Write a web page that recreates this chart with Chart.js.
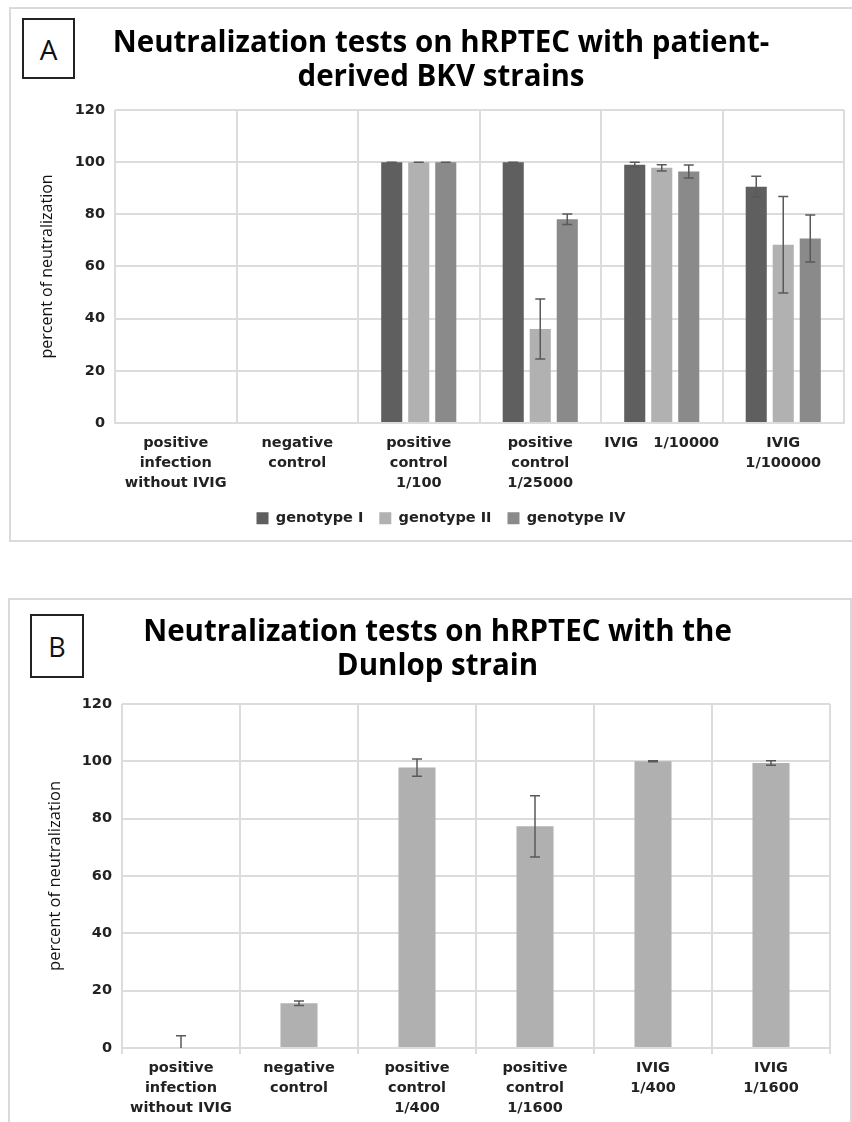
<!DOCTYPE html>
<html>
<head>
<meta charset="utf-8">
<script src="https://cdn.jsdelivr.net/npm/chart.js@4.4.0/dist/chart.umd.min.js"></script>
<style>
  body { margin: 0; background: #fff; width: 852px; height: 1122px; position: relative; overflow: hidden; }
  .panel { position: absolute; border: 2px solid #dadada; box-sizing: border-box; }
  .tag { position: absolute; border: 2px solid #222; box-sizing: border-box; font-family: 'Open Sans', sans-serif;
         display: flex; align-items: center; justify-content: center; color: #111; }
  canvas { position: absolute; }
</style>
</head>
<body>
<div class="panel" style="left:9px;top:7px;width:860px;height:535px;"></div>
<div class="panel" style="left:8px;top:598px;width:844px;height:540px;"></div>
<div class="tag" style="left:22px;top:18px;width:53px;height:61px;font-size:28px;">A</div>
<div class="tag" style="left:30px;top:614px;width:54px;height:64px;font-size:27px;">B</div>
<canvas id="chartA" width="841" height="532" style="left:10px;top:8px;"></canvas>
<canvas id="chartB" width="842" height="523" style="left:9px;top:599px;"></canvas>
<script>
// panel A - patient derived strains
const labelsA = [['positive', 'infection', 'without IVIG'], ['negative', 'control'], ['positive', 'control', '1/100'],
                 ['positive', 'control', '1/25000'], ['IVIG   1/10000'], ['IVIG', '1/100000']];
const genotypeI = [0, 0, 100, 100, 99, 90.6];
const genotypeII = [0, 0, 100, 36, 97.8, 68.3];
const genotypeIV = [0, 0, 100, 78.1, 96.4, 70.7];
const errI = [null, null, 0, 0, 1, 4];
const errII = [null, null, 0, 11.5, 1.2, 18.5];
const errIV = [null, null, 0, 2, 2.5, 9];

// panel B - Dunlop strain
const labelsB = [['positive', 'infection', 'without IVIG'], ['negative', 'control'], ['positive', 'control', '1/400'],
                 ['positive', 'control', '1/1600'], ['IVIG', '1/400'], ['IVIG', '1/1600']];
const dunlop = [0, 15.6, 97.8, 77.3, 100, 99.4];
const errDunlop = [4.3, 0.8, 3, 10.7, 0.2, 0.8];

const yTicks = [0, 20, 40, 60, 80, 100, 120];

const boldFont = { family: 'DejaVu Sans', weight: 'bold', size: 14.5, lineHeight: 1.38 };
const titleFont = { family: 'Open Sans', weight: 'bold', size: 29.5, lineHeight: 1.15 };
const gridColor = '#dcdcdc';

// draws the error bars on top of each bar
const errorBars = {
  id: 'errorBars',
  afterDatasetsDraw(chart) {
    const { ctx, chartArea, scales: { y } } = chart;
    ctx.save();
    ctx.beginPath();
    ctx.rect(chartArea.left, chartArea.top, chartArea.right - chartArea.left, chartArea.bottom - chartArea.top);
    ctx.clip();
    ctx.strokeStyle = '#595959';
    ctx.lineWidth = 1.5;
    chart.data.datasets.forEach((ds, i) => {
      if (!ds.errors) return;
      chart.getDatasetMeta(i).data.forEach((bar, j) => {
        const e = ds.errors[j];
        if (e == null) return;
        const v = ds.data[j];
        const top = y.getPixelForValue(v + e);
        const bot = y.getPixelForValue(v - e);
        const x = bar.x;
        ctx.beginPath();
        ctx.moveTo(x, top); ctx.lineTo(x, bot);
        ctx.moveTo(x - 5, top); ctx.lineTo(x + 5, top);
        ctx.moveTo(x - 5, bot); ctx.lineTo(x + 5, bot);
        ctx.stroke();
      });
    });
    ctx.restore();
  }
};

function yScale(width, titleSize) {
  return {
    min: 0, max: 120,
    afterBuildTicks: s => { s.ticks = yTicks.map(v => ({ value: v })); },
    afterFit: s => { s.width = width; },
    ticks: { font: boldFont, color: '#222', padding: 10 },
    grid: { color: gridColor, lineWidth: 2, drawTicks: false },
    border: { display: false },
    title: { display: true, text: 'percent of neutralization', color: '#111', padding: 0,
             font: { family: 'Open Sans', size: titleSize } }
  };
}

new Chart(document.getElementById('chartA'), {
  type: 'bar',
  data: {
    labels: labelsA,
    datasets: [
      { label: 'genotype I', data: genotypeI, errors: errI, backgroundColor: '#5f5f5f' },
      { label: 'genotype II', data: genotypeII, errors: errII, backgroundColor: '#b1b1b1' },
      { label: 'genotype IV', data: genotypeIV, errors: errIV, backgroundColor: '#8a8a8a' }
    ]
  },
  options: {
    responsive: false,
    animation: false,
    layout: { padding: { left: 28, right: 7, top: 0, bottom: 4.5 } },
    datasets: { bar: { categoryPercentage: 0.667, barPercentage: 0.78, borderWidth: 0 } },
    plugins: {
      title: {
        display: true,
        text: ['Neutralization tests on hRPTEC with patient-', 'derived BKV strains'],
        color: '#000',
        font: titleFont,
        padding: { top: 18.5, bottom: 15.6 }
      },
      legend: {
        position: 'bottom',
        labels: { boxWidth: 12, boxHeight: 12, padding: 16, color: '#222', font: boldFont }
      },
      tooltip: { enabled: false }
    },
    scales: {
      x: {
        afterFit: s => { s.height = 72; },
        grid: { color: gridColor, lineWidth: 2, drawTicks: false, offset: true },
        border: { color: gridColor, width: 2 },
        ticks: { font: boldFont, color: '#222', padding: 10, maxRotation: 0, autoSkip: false }
      },
      y: yScale(77, 16)
    }
  },
  plugins: [errorBars]
});

new Chart(document.getElementById('chartB'), {
  type: 'bar',
  data: {
    labels: labelsB,
    datasets: [
      { label: 'Dunlop', data: dunlop, errors: errDunlop, backgroundColor: '#b0b0b0' }
    ]
  },
  options: {
    responsive: false,
    animation: false,
    layout: { padding: { left: 36, right: 21, top: 0, bottom: 4 } },
    datasets: { bar: { categoryPercentage: 1, barPercentage: 0.314, borderWidth: 0 } },
    plugins: {
      title: {
        display: true,
        text: ['Neutralization tests on hRPTEC with the', 'Dunlop strain'],
        color: '#000',
        font: titleFont,
        padding: { top: 16.5, bottom: 20.6 }
      },
      legend: { display: false },
      tooltip: { enabled: false }
    },
    scales: {
      x: {
        afterFit: s => { s.height = 70; },
        grid: { color: gridColor, lineWidth: 2, drawTicks: true, tickLength: 6, offset: true },
        border: { color: gridColor, width: 2 },
        ticks: { font: boldFont, color: '#222', padding: 4, maxRotation: 0, autoSkip: false }
      },
      y: yScale(77, 16.5)
    }
  },
  plugins: [errorBars]
});
</script>
</body>
</html>
